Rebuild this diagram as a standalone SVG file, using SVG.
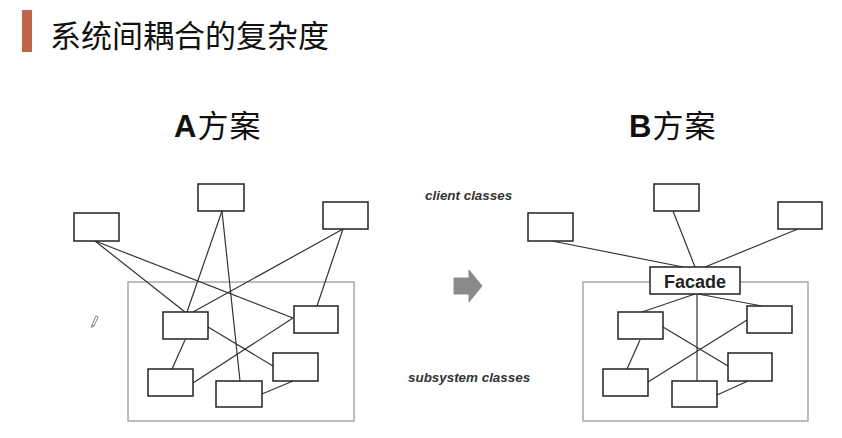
<svg xmlns="http://www.w3.org/2000/svg" width="842" height="438" viewBox="0 0 842 438">
<style>
.box{fill:#fff;stroke:#222;stroke-width:1.5}
.sub{fill:none;stroke:#a8a8a8;stroke-width:1.5}
.ln{stroke:#333;stroke-width:1.2;fill:none}
.h1{font-family:"Noto Sans CJK SC","Noto Sans",sans-serif;font-size:31px;fill:#111}
.h2{font-family:"Liberation Sans","Noto Sans CJK SC",sans-serif;font-size:31px;fill:#111;letter-spacing:1px}
.lbl{font-family:"Liberation Sans",Arial,sans-serif;font-size:13.4px;font-weight:bold;font-style:italic;fill:#333}
.fac{font-family:"Liberation Sans",Arial,sans-serif;font-size:18px;font-weight:bold;fill:#222;text-anchor:middle}
</style>
<rect width="842" height="438" fill="#fff"/>
<g id="title">
<rect x="22" y="10" width="10" height="42" fill="#c0654a"/>
<text class="h1" x="50" y="47">系统间耦合的复杂度</text>
</g>
<g id="headA"><text class="h2" x="174" y="137"><tspan font-weight="bold">A</tspan>方案</text></g>
<g id="headB"><text class="h2" x="629" y="137"><tspan font-weight="bold">B</tspan>方案</text></g>
<g id="labels">
<text class="lbl" x="425" y="200">client classes</text>
<text class="lbl" x="408" y="382">subsystem classes</text>
</g>
<g id="arrow"><path d="M454,278 L469,278 L469,270 L482,286 L469,302 L469,294 L454,294 Z" fill="#8a8a8a" stroke="#8a8a8a" stroke-width="1" stroke-linejoin="round"/></g>
<g id="pencil"><path d="M92,325 L96,316 L98,317 L94,326 Z M92,325 L91.5,327.5 L94,326" fill="none" stroke="#666" stroke-width="0.8"/></g>

<!-- A diagram -->
<g id="A-subsystem"><rect class="sub" x="128" y="282" width="226" height="139"/></g>
<g id="A-connectors">
<line class="ln" x1="95" y1="241" x2="185" y2="312"/>
<line class="ln" x1="95" y1="241" x2="293" y2="318"/>
<line class="ln" x1="222" y1="211" x2="187" y2="312"/>
<line class="ln" x1="222" y1="211" x2="240" y2="381"/>
<line class="ln" x1="343" y1="229" x2="193" y2="312"/>
<line class="ln" x1="343" y1="229" x2="317" y2="306"/>
<line class="ln" x1="185" y1="340" x2="172" y2="369"/>
<line class="ln" x1="208" y1="327" x2="273" y2="366"/>
<line class="ln" x1="293" y1="318" x2="193" y2="383"/>
<line class="ln" x1="293" y1="381" x2="262" y2="394"/>
</g>
<g id="A-client1"><rect class="box" x="74" y="213" width="45" height="28"/></g>
<g id="A-client2"><rect class="box" x="198" y="184" width="46" height="27"/></g>
<g id="A-client3"><rect class="box" x="323" y="202" width="45" height="27"/></g>
<g id="A-sub1"><rect class="box" x="163" y="312" width="45" height="27"/></g>
<g id="A-sub2"><rect class="box" x="294" y="306" width="44" height="27"/></g>
<g id="A-sub3"><rect class="box" x="273" y="353" width="45" height="28"/></g>
<g id="A-sub4"><rect class="box" x="148" y="369" width="45" height="27"/></g>
<g id="A-sub5"><rect class="box" x="216" y="381" width="46" height="26"/></g>

<!-- B diagram -->
<g id="B-subsystem"><rect class="sub" x="583" y="282" width="225" height="139"/></g>
<g id="B-connectors">
<line class="ln" x1="552" y1="241" x2="683" y2="267"/>
<line class="ln" x1="673" y1="211" x2="695" y2="267"/>
<line class="ln" x1="798" y1="229" x2="705" y2="267"/>
<line class="ln" x1="695" y1="294" x2="642" y2="312"/>
<line class="ln" x1="698" y1="294" x2="762" y2="306"/>
<line class="ln" x1="697" y1="294" x2="697" y2="381" stroke-width="1.6"/>
<line class="ln" x1="640" y1="340" x2="627" y2="369"/>
<line class="ln" x1="663" y1="327" x2="728" y2="366"/>
<line class="ln" x1="747" y1="320" x2="648" y2="382"/>
<line class="ln" x1="748" y1="381" x2="717" y2="395"/>
</g>
<g id="B-client1"><rect class="box" x="528" y="213" width="45" height="28"/></g>
<g id="B-client2"><rect class="box" x="654" y="184" width="45" height="27"/></g>
<g id="B-client3"><rect class="box" x="778" y="202" width="44" height="27"/></g>
<g id="B-facade"><rect class="box" x="650" y="267" width="90" height="27" stroke-width="1.8"/><text class="fac" x="695" y="288">Facade</text></g>
<g id="B-sub1"><rect class="box" x="618" y="312" width="45" height="27"/></g>
<g id="B-sub2"><rect class="box" x="747" y="306" width="45" height="27"/></g>
<g id="B-sub3"><rect class="box" x="728" y="353" width="44" height="28"/></g>
<g id="B-sub4"><rect class="box" x="603" y="369" width="45" height="27"/></g>
<g id="B-sub5"><rect class="box" x="672" y="381" width="45" height="26"/></g>
</svg>
